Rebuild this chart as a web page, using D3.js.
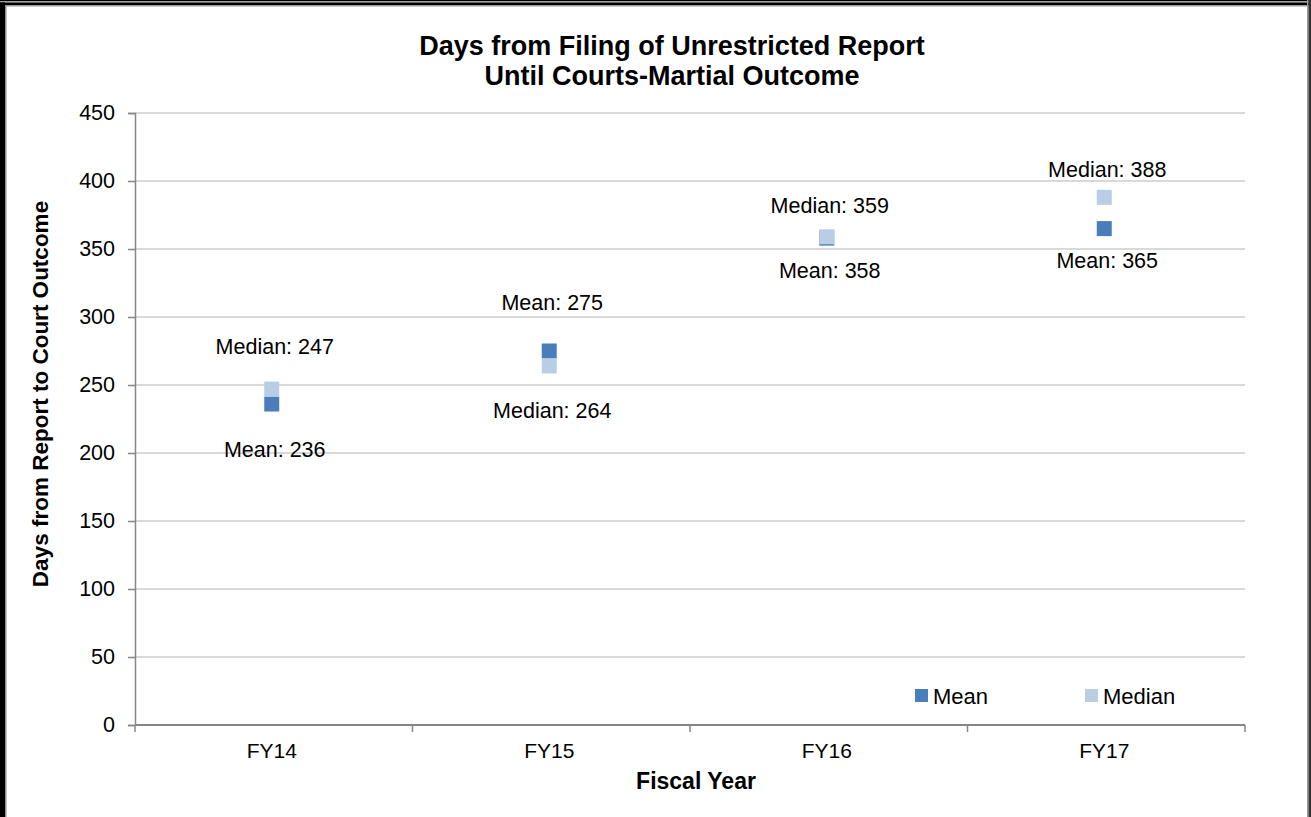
<!DOCTYPE html>
<html>
<head>
<meta charset="utf-8">
<script src="https://cdn.jsdelivr.net/npm/d3@7"></script>
<style>
  body { margin: 0; background: #fff; }
  svg text { font-family: "Liberation Sans", Arial, sans-serif; fill: #000; }
</style>
</head>
<body>
<svg id="chart" width="1311" height="817"></svg>
<script>
// data
const years = ["FY14", "FY15", "FY16", "FY17"];
const meanDays = [236, 275, 358, 365];
const medianDays = [247, 264, 359, 388];
const yTicks = [0, 50, 100, 150, 200, 250, 300, 350, 400, 450];

// label placement (px from marker centre, negative = above)
const meanLabelDy = [45, -49, 32, 32];
const medianLabelDy = [-43, 45, -31, -28];

const colors = { mean: "#4a7ebb", median: "#b9cde5" };

const W = 1311, H = 817;
const margin = { top: 113, left: 135, right: W - 1245, bottom: H - 725 };

const svg = d3.select("#chart");

// frame
svg.append("rect").attr("x", 0).attr("y", 0).attr("width", W).attr("height", H).attr("fill", "#fff");
svg.append("rect").attr("x", 0).attr("y", 0).attr("width", 5).attr("height", H).attr("fill", "#000");
svg.append("rect").attr("x", 5).attr("y", 5).attr("width", 1.5).attr("height", H).attr("fill", "#8c8c8c");
svg.append("rect").attr("x", 0).attr("y", 0).attr("width", W).attr("height", 1).attr("fill", "#000");
svg.append("rect").attr("x", 0).attr("y", 1).attr("width", W).attr("height", 1.5).attr("fill", "#a0a0a0");
svg.append("rect").attr("x", 0).attr("y", 2.5).attr("width", W).attr("height", 2.5).attr("fill", "#000");
svg.append("rect").attr("x", 5).attr("y", 5).attr("width", W).attr("height", 1.5).attr("fill", "#9a9a9a");
svg.append("rect").attr("x", W - 4).attr("y", 0).attr("width", 1.5).attr("height", H).attr("fill", "#9a9a9a");
svg.append("rect").attr("x", W - 2.5).attr("y", 0).attr("width", 2.5).attr("height", H).attr("fill", "#333");

const x = d3.scaleBand()
  .domain(years)
  .range([margin.left, W - margin.right])
  .padding(0);

const y = d3.scaleLinear()
  .domain([0, 450])
  .range([H - margin.bottom, margin.top]);

// gridlines
svg.append("g")
  .selectAll("line")
  .data(yTicks.filter(d => d > 0))
  .join("line")
  .attr("x1", margin.left)
  .attr("x2", W - margin.right)
  .attr("y1", d => y(d))
  .attr("y2", d => y(d))
  .attr("stroke", "#d9d9d9")
  .attr("stroke-width", 2);

// y axis
const yAxis = svg.append("g")
  .attr("transform", `translate(${margin.left},0)`)
  .call(d3.axisLeft(y).tickValues(yTicks).tickSize(7).tickPadding(13));
yAxis.select(".domain").attr("stroke", "#868686").attr("stroke-width", 1.5);
yAxis.selectAll(".tick line").attr("stroke", "#868686").attr("stroke-width", 1.5);
yAxis.selectAll("text").style("font-size", "21.5px").attr("fill", "#000");

// x axis: ticks on category boundaries
const xAxisG = svg.append("g")
  .attr("transform", `translate(0,${H - margin.bottom})`);
xAxisG.append("line")
  .attr("x1", margin.left).attr("x2", W - margin.right)
  .attr("stroke", "#868686").attr("stroke-width", 2);
const bounds = years.map(d => x(d)).concat([x(years[years.length - 1]) + x.bandwidth()]);
xAxisG.selectAll(".bound")
  .data(bounds)
  .join("line")
  .attr("class", "bound")
  .attr("x1", d => d).attr("x2", d => d)
  .attr("y1", 0).attr("y2", 7)
  .attr("stroke", "#868686").attr("stroke-width", 1.5);
xAxisG.selectAll(".lbl")
  .data(years)
  .join("text")
  .attr("class", "lbl")
  .attr("x", d => x(d) + x.bandwidth() / 2 - 2)
  .attr("y", 33)
  .attr("text-anchor", "middle")
  .style("font-size", "21px")
  .text(d => d);

// titles
const title = svg.append("text")
  .attr("x", 672)
  .attr("text-anchor", "middle")
  .style("font-size", "27px")
  .style("font-weight", "bold");
title.append("tspan").attr("x", 672).attr("y", 55).text("Days from Filing of Unrestricted Report");
title.append("tspan").attr("x", 672).attr("y", 85).text("Until Courts-Martial Outcome");

svg.append("text")
  .attr("x", 696)
  .attr("y", 789)
  .attr("text-anchor", "middle")
  .style("font-size", "23px")
  .style("font-weight", "bold")
  .text("Fiscal Year");

svg.append("text")
  .attr("transform", `translate(48,394) rotate(-90)`)
  .attr("text-anchor", "middle")
  .style("font-size", "22.5px")
  .style("font-weight", "bold")
  .text("Days from Report to Court Outcome");

// markers
const size = 15;
const cx = d => x(d) + x.bandwidth() / 2 - 2;

const series = [
  { key: "Mean", values: meanDays, color: colors.mean, dy: meanLabelDy },
  { key: "Median", values: medianDays, color: colors.median, dy: medianLabelDy }
];

series.forEach(s => {
  svg.append("g")
    .selectAll("rect")
    .data(years)
    .join("rect")
    .attr("x", d => cx(d) - size / 2)
    .attr("y", (d, i) => y(s.values[i]) - size / 2)
    .attr("width", size)
    .attr("height", size)
    .attr("fill", s.color);
});

series.forEach(s => {
  svg.append("g")
    .selectAll("text")
    .data(years)
    .join("text")
    .attr("x", d => cx(d) + 3)
    .attr("y", (d, i) => y(s.values[i]) + s.dy[i])
    .attr("dy", "0.35em")
    .attr("text-anchor", "middle")
    .style("font-size", "21.5px")
    .text((d, i) => `${s.key}:  ${s.values[i]}`);
});

// legend
const legendX = [915, 1085];
const legend = svg.append("g");
series.forEach((s, i) => {
  legend.append("rect")
    .attr("x", legendX[i]).attr("y", 689)
    .attr("width", 13).attr("height", 13)
    .attr("fill", s.color);
  legend.append("text")
    .attr("x", legendX[i] + 18).attr("y", 696)
    .attr("dy", "0.35em")
    .style("font-size", "22px")
    .text(s.key);
});
</script>
</body>
</html>
